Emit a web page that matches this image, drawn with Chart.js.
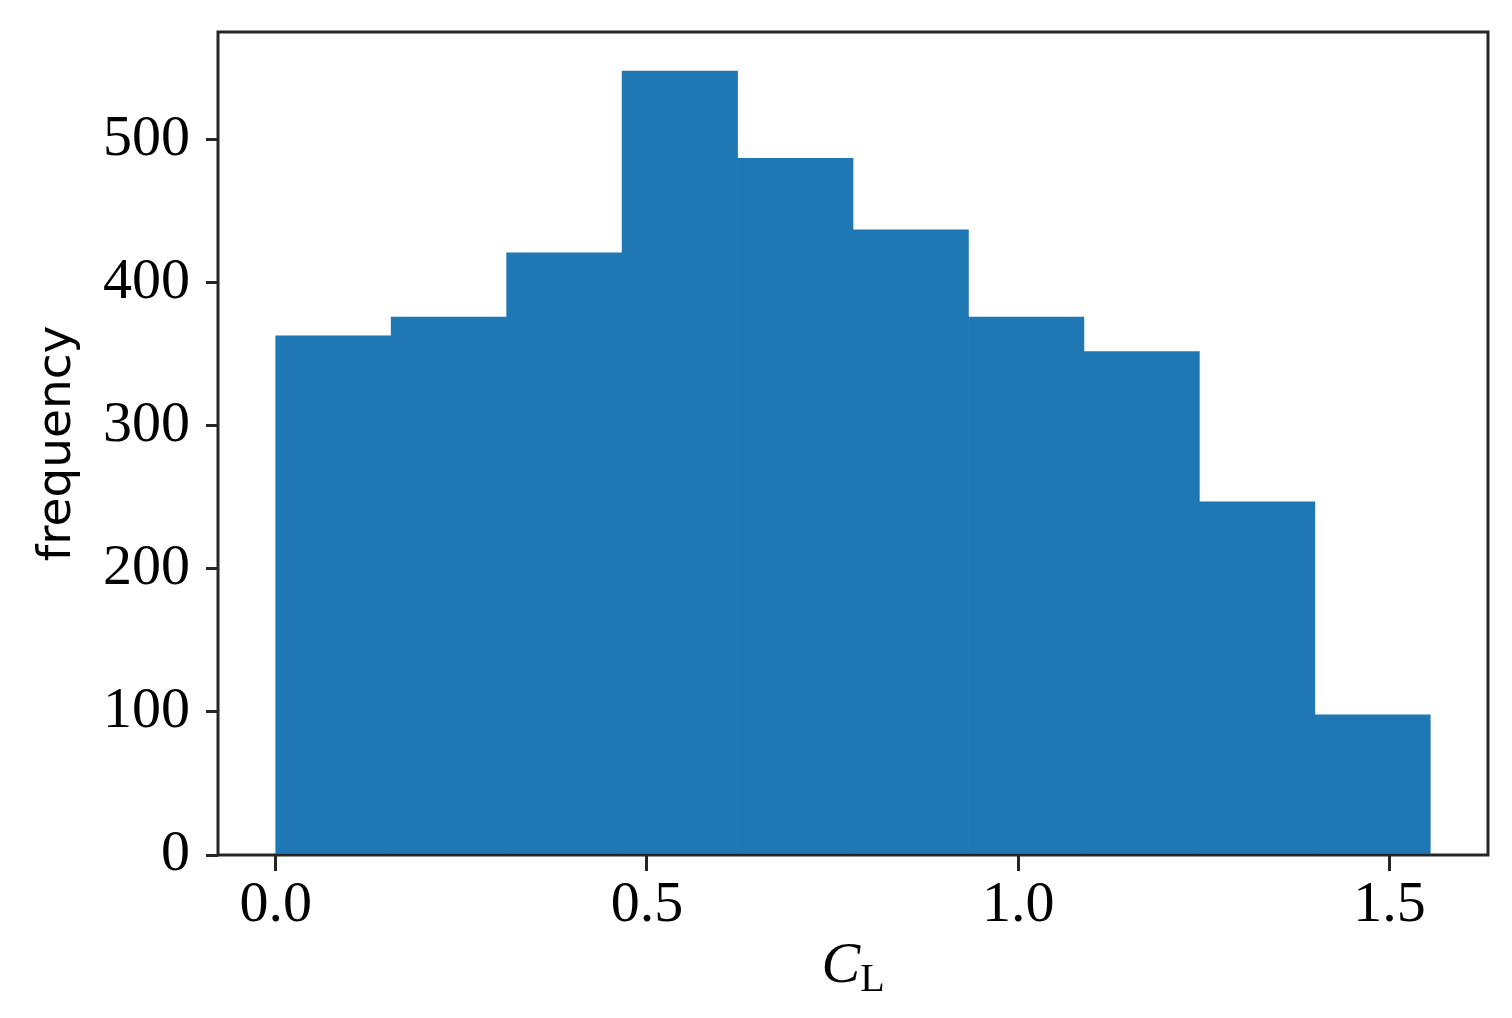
<!DOCTYPE html>
<html>
<head>
<meta charset="utf-8">
<script src="https://cdn.jsdelivr.net/npm/chart.js@4.4.1/dist/chart.umd.min.js"></script>
<style>
  html, body { margin: 0; padding: 0; background: #fff; }
  #wrap { width: 1512px; height: 1018px; }
</style>
</head>
<body>
<div id="wrap"><canvas id="histChart" width="1512" height="1018"></canvas></div>
<script>
// histogram data
const binEdges = [0, 0.1555, 0.311, 0.4665, 0.622, 0.7775, 0.933, 1.0885, 1.244, 1.3995, 1.555];
const counts = [363, 376, 421, 548, 487, 437, 376, 352, 247, 98];
const xTicks = [0.0, 0.5, 1.0, 1.5];
const yTicks = [0, 100, 200, 300, 400, 500];

const barColor = '#1f77b4';
const axisColor = '#262626';

// one bar per bin, placed at the bin centre
const points = counts.map((c, i) => ({ x: (binEdges[i] + binEdges[i + 1]) / 2, y: c }));

const span = binEdges[binEdges.length - 1] - binEdges[0];
const xMin = binEdges[0] - span * 0.05;
const xMax = binEdges[binEdges.length - 1] + span * 0.05;
const yMax = Math.max(...counts) * 1.05;

// full box round the plot area, like matplotlib spines
const frame = {
  id: 'frame',
  afterDatasetsDraw(chart) {
    const { ctx, chartArea: a } = chart;
    ctx.save();
    ctx.strokeStyle = axisColor;
    ctx.lineWidth = 3;
    ctx.strokeRect(a.left, a.top, a.right - a.left, a.bottom - a.top);
    ctx.restore();
  }
};

// x axis label C with subscript L
const xLabel = {
  id: 'xLabel',
  afterDraw(chart) {
    const { ctx, chartArea: a } = chart;
    const cx = (a.left + a.right) / 2;
    ctx.save();
    ctx.fillStyle = '#000';
    ctx.textBaseline = 'alphabetic';
    ctx.textAlign = 'left';
    ctx.font = 'italic 58px "Liberation Serif"';
    const cw = ctx.measureText('C').width;
    ctx.font = '40px "Liberation Serif"';
    const lw = ctx.measureText('L').width;
    const start = cx - (cw + lw) / 2;
    ctx.font = 'italic 58px "Liberation Serif"';
    ctx.fillText('C', start, 982);
    ctx.font = '40px "Liberation Serif"';
    ctx.fillText('L', start + cw, 991);
    ctx.restore();
  }
};

new Chart(document.getElementById('histChart'), {
  type: 'bar',
  data: {
    datasets: [{
      data: points,
      backgroundColor: barColor,
      borderWidth: 0,
      barPercentage: 1.0,
      categoryPercentage: 1.0
    }]
  },
  options: {
    responsive: false,
    animation: false,
    layout: { padding: { left: 0, top: 32, right: 24, bottom: 0 } },
    plugins: {
      legend: { display: false },
      tooltip: { enabled: false }
    },
    scales: {
      x: {
        type: 'linear',
        min: xMin,
        max: xMax,
        offset: false,
        afterBuildTicks: (s) => { s.ticks = xTicks.map(v => ({ value: v })); },
        afterFit: (s) => { s.height = 163; s.paddingLeft = 0; s.paddingRight = 0; },
        grid: { offset: false, drawOnChartArea: false, drawTicks: true, tickLength: 16, color: axisColor, lineWidth: 3 },
        border: { display: false },
        ticks: {
          color: '#000',
          padding: 0,
          maxRotation: 0,
          font: { family: '"Liberation Serif"', size: 58 },
          callback: (v) => Number(v).toFixed(1)
        }
      },
      y: {
        min: 0,
        max: yMax,
        afterBuildTicks: (s) => { s.ticks = yTicks.map(v => ({ value: v })); },
        afterFit: (s) => { s.width = 218; s.paddingTop = 0; s.paddingBottom = 0; },
        grid: { drawOnChartArea: false, drawTicks: true, tickLength: 12, color: axisColor, lineWidth: 3 },
        border: { display: false },
        title: {
          display: true,
          text: 'frequency',
          color: '#000',
          font: { family: '"DejaVu Sans"', size: 47 },
          padding: { top: 30, bottom: 0 }
        },
        ticks: {
          color: '#000',
          padding: 16,
          font: { family: '"Liberation Serif"', size: 58 },
          callback: (v) => String(v)
        }
      }
    }
  },
  plugins: [frame, xLabel]
});
</script>
</body>
</html>
